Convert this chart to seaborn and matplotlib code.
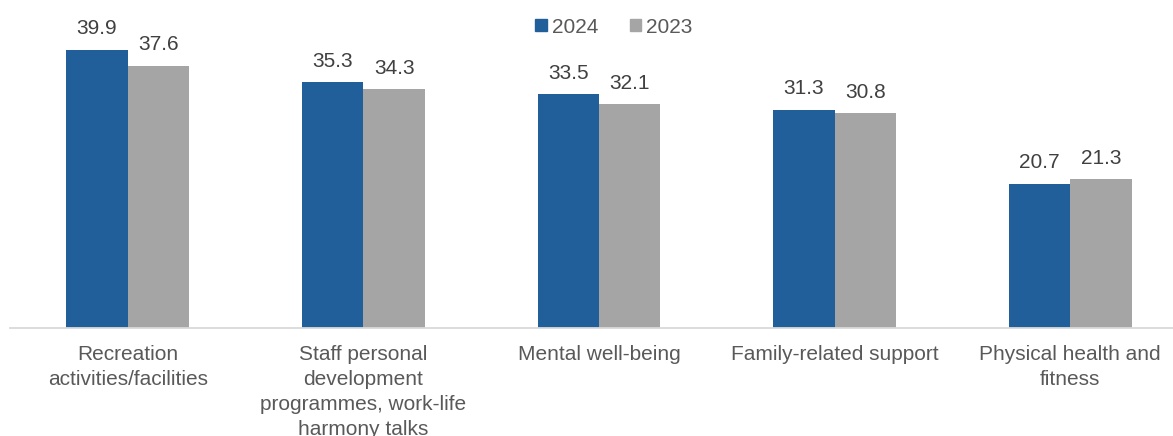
import matplotlib
matplotlib.use("Agg")
import matplotlib.pyplot as plt
import seaborn as sns
import pandas as pd

categories = [
    "Recreation\nactivities/facilities",
    "Staff personal\ndevelopment\nprogrammes, work-life\nharmony talks",
    "Mental well-being",
    "Family-related support",
    "Physical health and\nfitness",
]
values_2024 = [39.9, 35.3, 33.5, 31.3, 20.7]
values_2023 = [37.6, 34.3, 32.1, 30.8, 21.3]
years = ["2024", "2023"]

df = pd.DataFrame({
    "category": categories * 2,
    "value": values_2024 + values_2023,
    "year": [years[0]] * len(categories) + [years[1]] * len(categories),
})

sns.set_theme(style="white")
plt.rcParams["font.family"] = ["Liberation Sans", "DejaVu Sans"]

text_color = "#595959"
palette = {"2024": "#215F9A", "2023": "#A5A5A5"}

fig = plt.figure(figsize=(11.73, 4.36), dpi=100)
ax = fig.add_axes([10 / 1173, 108 / 436, 1163 / 1173, 328 / 436])

sns.barplot(data=df, x="category", y="value", hue="year", hue_order=years,
            palette=palette, width=0.522, saturation=1, ax=ax, legend=False,
            edgecolor="none")

for container in ax.containers:
    ax.bar_label(container, fmt="%.1f", padding=8, fontsize=15, color="#404040")

ax.set_ylim(0, 47)
ax.set_xlim(-0.5, 4.5 - 15 / 235.7)
ax.set_xlabel("")
ax.set_ylabel("")
ax.set_yticks([])
for side in ["top", "right", "left"]:
    ax.spines[side].set_visible(False)
ax.spines["bottom"].set_color("#D9D9D9")
ax.spines["bottom"].set_linewidth(1.3)
ax.tick_params(axis="x", length=0, pad=12.5, labelsize=15, labelcolor=text_color)
for lbl in ax.get_xticklabels():
    lbl.set_linespacing(1.4)

handles = [plt.Rectangle((0, 0), 1, 1, color=palette[y]) for y in years]
fig.legend(handles, years, loc="center", bbox_to_anchor=(0.5235, 0.938), ncol=2,
           frameon=False, fontsize=15, labelcolor=text_color,
           handlelength=0.55, handleheight=0.55, handletextpad=0.25,
           columnspacing=1.5)

fig.savefig("out.png", dpi=100)
